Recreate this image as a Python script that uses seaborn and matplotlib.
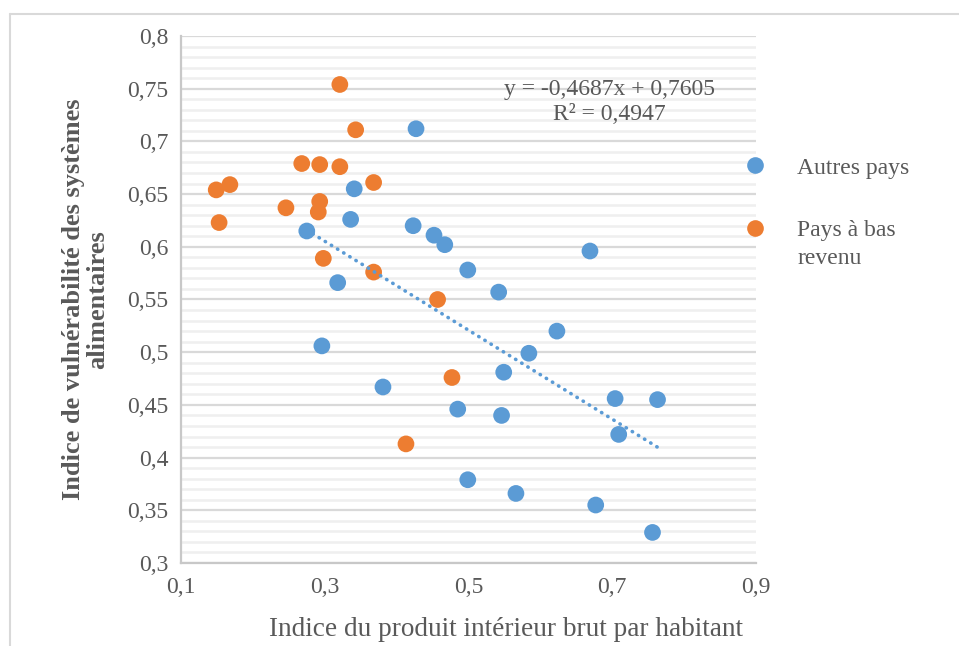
import pandas as pd
import matplotlib.pyplot as plt
import matplotlib.lines as mlines
from matplotlib.ticker import MultipleLocator, FixedLocator, FixedFormatter
import seaborn as sns

# Data
autres_x = [0.427, 0.341, 0.336, 0.275, 0.423, 0.452, 0.467, 0.669, 0.499, 0.542,
            0.318, 0.623, 0.584, 0.296, 0.549, 0.381, 0.704, 0.763, 0.485, 0.546,
            0.709, 0.499, 0.566, 0.677, 0.756]
autres_y = [0.712, 0.655, 0.626, 0.615, 0.620, 0.611, 0.602, 0.596, 0.578, 0.557,
            0.566, 0.520, 0.499, 0.506, 0.481, 0.467, 0.456, 0.455, 0.446, 0.440,
            0.422, 0.379, 0.366, 0.355, 0.329]
bas_x = [0.321, 0.343, 0.268, 0.293, 0.321, 0.368, 0.149, 0.168, 0.293, 0.291,
         0.246, 0.153, 0.298, 0.368, 0.457, 0.477, 0.413]
bas_y = [0.754, 0.711, 0.679, 0.678, 0.676, 0.661, 0.654, 0.659, 0.643, 0.633,
         0.637, 0.623, 0.589, 0.576, 0.550, 0.476, 0.413]
groups = ['Autres pays', 'Pays à bas revenu']
x_ticks = [0.1, 0.3, 0.5, 0.7, 0.9]
x_tick_labels = ['0,1', '0,3', '0,5', '0,7', '0,9']
y_ticks = [0.3, 0.35, 0.4, 0.45, 0.5, 0.55, 0.6, 0.65, 0.7, 0.75, 0.8]
y_tick_labels = ['0,3', '0,35', '0,4', '0,45', '0,5', '0,55', '0,6', '0,65', '0,7', '0,75', '0,8']
equation = 'y = -0,4687x + 0,7605'
r2_text = 'R² = 0,4947'

df = pd.DataFrame({
    'pib': autres_x + bas_x,
    'vuln': autres_y + bas_y,
    'groupe': [groups[0]] * len(autres_x) + [groups[1]] * len(bas_x),
})

sns.set_style('white')
plt.rcParams['font.family'] = ['Liberation Serif', 'DejaVu Serif']
text_col = '#595959'
blue = '#5B9BD5'
orange = '#ED7D31'

fig = plt.figure(figsize=(9.59, 6.46), dpi=100)
ax = fig.add_axes([181 / 959, 1 - 563 / 646, 575 / 959, 527 / 646])

sns.scatterplot(data=df, x='pib', y='vuln', hue='groupe', hue_order=groups,
                palette={groups[0]: blue, groups[1]: orange},
                s=145, edgecolor='none', ax=ax, zorder=3)

# linear trend on the "Autres pays" series
sns.regplot(x=autres_x, y=autres_y, scatter=False, ci=None, ax=ax, color=blue,
            line_kws={'linestyle': (0, (0.1, 1.9)), 'linewidth': 2.6,
                      'dash_capstyle': 'round', 'zorder': 4})

ax.set_xlim(0.1, 0.9)
ax.set_ylim(0.3, 0.8)
ax.xaxis.set_major_locator(FixedLocator(x_ticks))
ax.xaxis.set_major_formatter(FixedFormatter(x_tick_labels))
ax.yaxis.set_major_locator(FixedLocator(y_ticks))
ax.yaxis.set_major_formatter(FixedFormatter(y_tick_labels))
ax.yaxis.set_minor_locator(MultipleLocator(0.01))

ax.grid(False)
ax.grid(axis='y', which='minor', color='#efefef', linewidth=1.8, zorder=0)
ax.grid(axis='y', which='major', color='#d9d9d9', linewidth=1.6, zorder=0)
ax.set_axisbelow(True)

for side in ['top', 'right']:
    ax.spines[side].set_visible(False)
for side in ['left', 'bottom']:
    ax.spines[side].set_color('#c8c8c8')
    ax.spines[side].set_linewidth(1.6)

ax.tick_params(axis='both', which='major', direction='out', length=5, width=1.2,
               color='#c8c8c8', labelsize=17, labelcolor=text_col, pad=4)
ax.tick_params(axis='y', which='minor', length=0)
ax.tick_params(axis='x', which='major', length=6)

ax.set_xlabel('Indice du produit intérieur brut par habitant', fontsize=19.6, color=text_col)
ax.xaxis.set_label_coords((506 - 181) / 575, -0.102)
ax.set_ylabel('Indice de vulnérabilité des systèmes\nalimentaires', fontsize=19,
              fontweight='bold', color=text_col, linespacing=1.05)
ax.yaxis.set_label_coords(-0.125, 0.5)

fig.text(609 / 959, 1 - 89 / 646, equation, ha='center', va='center', fontsize=17, color=text_col)
fig.text(609 / 959, 1 - 115 / 646, r2_text, ha='center', va='center', fontsize=17, color=text_col)

# legend on the right
handles = [mlines.Line2D([], [], linestyle='none', marker='o', markersize=12,
                         markerfacecolor=c, markeredgecolor='none') for c in [blue, orange]]
ax.get_legend().remove()
fig.legend(handles, ['Autres pays', 'Pays à bas'], loc='upper left',
           bbox_to_anchor=(743 / 959, 1 - 157 / 646), frameon=False, fontsize=17,
           handlelength=1.0, handletextpad=1.28, labelspacing=1.73,
           borderpad=0, borderaxespad=0, labelcolor=text_col)
fig.text(797 / 959, 1 - 259 / 646, 'revenu', ha='left', va='center', fontsize=17, color=text_col)

# light frame of the chart area
fig.add_artist(mlines.Line2D([10 / 959, 10 / 959], [0, 1 - 14 / 646], color='#d9d9d9', lw=1.5))
fig.add_artist(mlines.Line2D([10 / 959, 1], [1 - 14 / 646, 1 - 14 / 646], color='#d9d9d9', lw=1.5))

fig.savefig('out.png', dpi=100)
